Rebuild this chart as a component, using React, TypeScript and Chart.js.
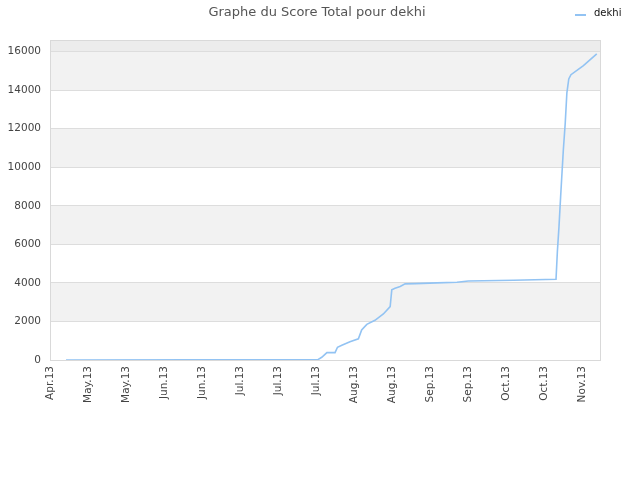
import { Chart, registerables } from "chart.js";
import { useEffect, useRef } from "react";

Chart.register(...registerables);

// days counted from 22 Apr 2013
const dayOffsets = [
    5.9, 98.7, 100.1, 102, 105, 105.9, 107.5, 110.5, 113.6, 114.8,
    116.7, 119.7, 122.8, 125.3, 125.9, 127.1, 129, 130.8, 134.5, 142.5,
    149.9, 154.1, 170.7, 186.4, 186.9, 187.5, 188.1, 188.6, 189.1, 189.8,
    190.4, 191.1, 191.9, 196.5, 201.4,
];
const totalScores = [
    0, 20, 140, 380, 380, 660, 760, 950, 1100, 1560,
    1850, 2060, 2390, 2770, 3640, 3720, 3810, 3950, 3960, 4000,
    4030, 4100, 4140, 4190, 5630, 6930, 8480, 9700, 10910, 12300,
    13860, 14580, 14800, 15270, 15880,
];
const xTickLabels = [
    "Apr.13", "May.13", "May.13", "Jun.13", "Jun.13", "Jul.13", "Jul.13", "Jul.13",
    "Aug.13", "Aug.13", "Sep.13", "Sep.13", "Oct.13", "Oct.13", "Nov.13",
];
const seriesName = "dekhi";
const chartTitle = "Graphe du Score Total pour dekhi";

const LINE_COLOR = "#92c3f3";
const FONT = "'DejaVu Sans', sans-serif";

// bandes grises + cadre + titre + légende
const decorPlugin = {
    id: "decor",
    beforeDraw(chart: Chart) {
        const { ctx, chartArea: a } = chart;
        const y = chart.scales.y;
        ctx.save();
        ctx.fillStyle = "#ffffff";
        ctx.fillRect(a.left, a.top, a.right - a.left, a.bottom - a.top);
        ctx.fillStyle = "#f2f2f2";
        for (let v = 2000; v < 16000; v += 4000) {
            const top = y.getPixelForValue(v + 2000);
            const bot = y.getPixelForValue(v);
            ctx.fillRect(a.left, top, a.right - a.left, bot - top);
        }
        ctx.fillStyle = "#ececec";
        const t16 = y.getPixelForValue(16000);
        ctx.fillRect(a.left, a.top, a.right - a.left, t16 - a.top);
        ctx.restore();
    },
    afterDraw(chart: Chart) {
        const { ctx, chartArea: a } = chart;
        ctx.save();
        ctx.strokeStyle = "#d9d9d9";
        ctx.lineWidth = 1;
        ctx.strokeRect(a.left + 0.5, a.top + 0.5, a.right - a.left, a.bottom - a.top);

        ctx.fillStyle = "#555555";
        ctx.font = `13px ${FONT}`;
        ctx.textAlign = "center";
        ctx.textBaseline = "middle";
        ctx.fillText(chartTitle, 317, 13);

        ctx.strokeStyle = LINE_COLOR;
        ctx.lineWidth = 2;
        ctx.beginPath();
        ctx.moveTo(575, 15);
        ctx.lineTo(586, 15);
        ctx.stroke();
        ctx.fillStyle = "#111111";
        ctx.font = `10px ${FONT}`;
        ctx.textAlign = "left";
        ctx.fillText(seriesName, 594, 13);
        ctx.restore();
    },
};

export default function App() {
    const canvasRef = useRef<HTMLCanvasElement>(null);

    useEffect(() => {
        document.body.style.margin = "0";
        if (!canvasRef.current) return;

        const chart = new Chart(canvasRef.current, {
            type: "line",
            data: {
                datasets: [
                    {
                        label: seriesName,
                        data: dayOffsets.map((d, i) => ({ x: d, y: totalScores[i] })),
                        borderColor: LINE_COLOR,
                        borderWidth: 1.6,
                        pointRadius: 0,
                        tension: 0,
                        fill: false,
                    },
                ],
            },
            options: {
                responsive: false,
                animation: false,
                layout: { padding: { top: 40, right: 40, left: 0, bottom: 0 } },
                plugins: {
                    legend: { display: false },
                    title: { display: false },
                    tooltip: { enabled: false },
                },
                scales: {
                    x: {
                        type: "linear",
                        min: 0,
                        max: 202.6,
                        afterBuildTicks: (scale: any) => {
                            scale.ticks = scale.ticks.filter((t: any) => t.value % 14 === 0);
                        },
                        afterFit: (scale: any) => {
                            scale.height = 120;
                        },
                        ticks: {
                            stepSize: 14,
                            autoSkip: false,
                            maxRotation: 90,
                            minRotation: 90,
                            padding: 6,
                            color: "#444444",
                            font: { family: FONT, size: 10.5 },
                            callback: (v: any) => xTickLabels[Math.round(Number(v) / 14)] ?? "",
                        },
                        grid: { display: false, drawTicks: false },
                        border: { display: false },
                    },
                    y: {
                        type: "linear",
                        min: 0,
                        max: 16000,
                        // ticks every 2000 up to 16000, axis running a little higher
                        afterBuildTicks: (scale: any) => {
                            scale.max = 16600;
                        },
                        afterFit: (scale: any) => {
                            scale.width = 50;
                        },
                        ticks: {
                            stepSize: 2000,
                            autoSkip: false,
                            padding: 9,
                            color: "#444444",
                            font: { family: FONT, size: 10.5 },
                            callback: (v: any) => String(v),
                        },
                        grid: { color: "#dddddd", drawTicks: false, tickLength: 0 },
                        border: { display: false },
                    },
                },
            },
            plugins: [decorPlugin],
        });

        return () => chart.destroy();
    }, []);

    return (
        <div style={{ width: 640, height: 480 }}>
            <canvas ref={canvasRef} width={640} height={480}></canvas>
        </div>
    );
}
